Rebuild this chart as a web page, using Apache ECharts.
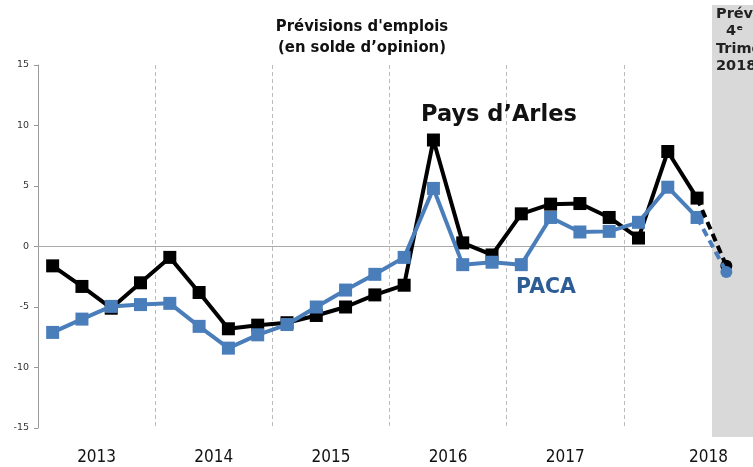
<!DOCTYPE html>
<html>
<head>
<meta charset="utf-8">
<script src="https://cdn.jsdelivr.net/npm/echarts@6/dist/echarts.min.js"></script>
<style>
  html, body { margin: 0; padding: 0; background: #fff; }
  #chart { width: 753px; height: 467px; }
</style>
</head>
<body>
<div id="chart"></div>
<script>
// trimestres 2013T1 .. 2018T4
var trimestres = [];
var annees = ['2013', '2014', '2015', '2016', '2017', '2018'];
annees.forEach(function (a) {
  for (var t = 1; t <= 4; t++) trimestres.push(a + 'T' + t);
});

// soldes d'opinion (le dernier point = prevision)
var paysArles = [-1.6, -3.3, -5.1, -3.0, -0.9, -3.8, -6.8, -6.5, -6.3, -5.7, -5.0, -4.0,
  -3.2, 8.8, 0.3, -0.7, 2.7, 3.5, 3.55, 2.4, 0.7, 7.85, 4.0, -1.6];
var paca = [-7.1, -6.0, -4.95, -4.8, -4.7, -6.6, -8.4, -7.3, -6.45, -5.0, -3.6, -2.3,
  -0.9, 4.8, -1.5, -1.3, -1.5, 2.4, 1.2, 1.25, 2.0, 4.9, 2.4, -2.1];

var yTicks = [-15, -10, -5, 0, 5, 10, 15];

var noir = '#000000';
var bleu = '#4a7ebb';

function partieReelle(arr) {
  return arr.map(function (v, i) { return i < arr.length - 1 ? v : null; });
}
function partiePrev(arr) {
  var n = arr.length;
  return arr.map(function (v, i) {
    if (i === n - 2) return { value: v, symbol: 'none' };
    if (i === n - 1) return { value: v, symbol: 'circle' };
    return null;
  });
}

// derniere annee decalee vers la droite (sous le bandeau gris)
var anneesAxe = annees.map(function (a, i) {
  if (i === annees.length - 1) return { value: a, textStyle: { padding: [0, 0, 0, 52] } };
  return a;
});

var dom = document.getElementById('chart');
var myChart = echarts.init(dom, null, { renderer: 'canvas' });

var option = {
  backgroundColor: '#ffffff',
  animation: false,
  title: {
    text: "Prévisions d'emplois\n(en solde d’opinion)",
    left: 357,
    textAlign: 'center',
    top: 11,
    textStyle: {
      fontFamily: 'DejaVu Sans Condensed',
      fontWeight: 'bold',
      fontSize: 16.5,
      lineHeight: 21,
      color: '#111'
    }
  },
  grid: { left: 38, right: 12, top: 65, bottom: 39, containLabel: false },
  graphic: [
    {
      type: 'rect',
      z: 1,
      shape: { x: 712, y: 5, width: 45, height: 432 },
      style: { fill: '#d9d9d9' }
    },
    {
      type: 'text',
      z: 3,
      left: 716,
      top: 5,
      style: {
        text: 'Prévisions\n  4ᵉ\nTrimestre\n2018',
        fontFamily: 'DejaVu Sans',
        fontWeight: 'bold',
        fontSize: 14.5,
        lineHeight: 17.5,
        fill: '#222'
      }
    },
    {
      type: 'text',
      z: 3,
      left: 421,
      top: 104,
      style: {
        text: 'Pays d’Arles',
        fontFamily: 'DejaVu Sans',
        fontWeight: 'bold',
        fontSize: 22.5,
        fill: '#111'
      }
    },
    {
      type: 'text',
      z: 3,
      left: 516,
      top: 277,
      style: {
        text: 'PACA',
        fontFamily: 'DejaVu Sans',
        fontWeight: 'bold',
        fontSize: 20.5,
        fill: '#2e5d96'
      }
    }
  ],
  xAxis: [
    {
      type: 'category',
      data: trimestres,
      boundaryGap: true,
      axisLine: { onZero: true, lineStyle: { color: '#aaaaaa', width: 1 } },
      axisTick: { show: false },
      axisLabel: { show: false },
      splitLine: { show: false }
    },
    {
      type: 'category',
      data: anneesAxe,
      position: 'bottom',
      boundaryGap: true,
      axisLine: { show: false },
      axisTick: { show: false },
      axisLabel: {
        margin: 21,
        fontFamily: 'DejaVu Sans Condensed',
        fontSize: 17,
        color: '#111'
      },
      splitLine: {
        show: true,
        interval: function (index) { return index > 0 && index < annees.length; },
        lineStyle: { color: '#bbbbbb', type: [4, 3], width: 1 }
      }
    }
  ],
  yAxis: {
    type: 'value',
    min: yTicks[0],
    max: yTicks[yTicks.length - 1],
    interval: 5,
    axisLine: { show: true, lineStyle: { color: '#999999' } },
    axisTick: { show: true, length: 4, lineStyle: { color: '#999999' } },
    axisLabel: {
      margin: 9,
      fontFamily: 'DejaVu Sans',
      fontSize: 9.5,
      color: '#333'
    },
    splitLine: { show: false }
  },
  series: [
    {
      name: "Pays d'Arles",
      type: 'line',
      data: partieReelle(paysArles),
      symbol: 'rect',
      symbolSize: 13,
      lineStyle: { color: noir, width: 4 },
      itemStyle: { color: noir },
      z: 2
    },
    {
      name: 'PACA',
      type: 'line',
      data: partieReelle(paca),
      symbol: 'rect',
      symbolSize: 13,
      lineStyle: { color: bleu, width: 4 },
      itemStyle: { color: bleu },
      z: 3
    },
    {
      name: "Pays d'Arles prev",
      type: 'line',
      data: partiePrev(paysArles),
      symbolSize: 12,
      lineStyle: { color: noir, width: 4, type: [8, 5] },
      itemStyle: { color: noir },
      z: 4
    },
    {
      name: 'PACA prev',
      type: 'line',
      data: partiePrev(paca),
      symbolSize: 12,
      lineStyle: { color: bleu, width: 4, type: [8, 5] },
      itemStyle: { color: bleu },
      z: 5
    }
  ]
};

if (option && typeof option === 'object') {
  myChart.setOption(option);
}

window.addEventListener('resize', myChart.resize);
</script>
</body>
</html>
